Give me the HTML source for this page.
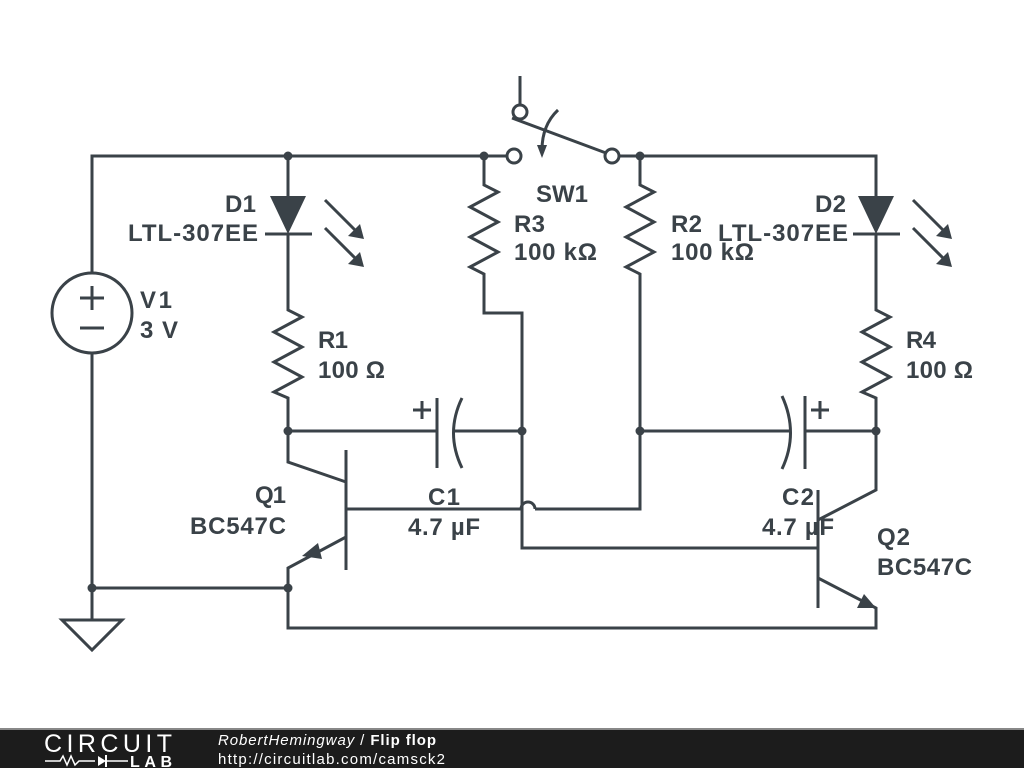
<!DOCTYPE html>
<html><head><style>
body{margin:0;width:1024px;height:768px;background:#fff;overflow:hidden;font-family:"Liberation Sans","DejaVu Sans",sans-serif}
svg text{font-family:"Liberation Sans","DejaVu Sans",sans-serif;font-weight:bold;font-size:24px;fill:#3a4248}
</style></head><body>
<svg width="1024" height="768" viewBox="0 0 1024 768" xmlns="http://www.w3.org/2000/svg">
<g stroke="#3a4248" stroke-width="3" fill="none" stroke-linejoin="miter">
<polyline points="92,273 92,156 507,156"/>
<polyline points="619,156 876,156 876,196"/>
<circle cx="514" cy="156" r="7" fill="#fff"/>
<circle cx="612" cy="156" r="7" fill="#fff"/>
<line x1="520" y1="76" x2="520" y2="104"/>
<circle cx="520" cy="112" r="7" fill="#fff"/>
<line x1="512" y1="118" x2="606" y2="153"/>
<path d="M558,110 Q542,125 542,150"/>
<circle cx="92" cy="313" r="40"/>
<line x1="80" y1="298" x2="104" y2="298"/><line x1="92" y1="286" x2="92" y2="310"/>
<line x1="80" y1="328" x2="104" y2="328"/>
<polyline points="92,353 92,620"/>
<polygon points="62,620 122,620 92,650"/>
<line x1="92" y1="588" x2="288" y2="588"/>
<line x1="288" y1="156" x2="288" y2="196"/>
<line x1="265" y1="234" x2="312" y2="234"/>
<polyline points="288,234 288,305 "/>
<polyline points="288,305 288,310 302,317 274,332 302,347 274,362 302,377 274,392 288,398 288,452"/>
<polyline points="484,156 484,185 498,192 470,207 498,222 470,237 498,252 470,267 484,274 484,313 522,313 522,548 818,548"/>
<polyline points="640,156 640,185 654,192 626,207 654,222 626,237 654,252 626,267 640,274 640,509 535,509"/>
<path d="M535,509 A7,7 0 0 0 521,509"/>
<line x1="521" y1="509" x2="346" y2="509"/>
<line x1="853" y1="234" x2="900" y2="234"/>
<polyline points="876,234 876,305 876,310 890,317 862,332 890,347 862,362 890,377 862,392 876,398 876,490 818,520"/>
<line x1="288" y1="431" x2="437" y2="431"/>
<line x1="437" y1="398" x2="437" y2="468"/>
<path d="M462,398 Q445,433 462,468"/>
<line x1="453" y1="431" x2="522" y2="431"/>
<line x1="413" y1="410" x2="431" y2="410"/><line x1="422" y1="401" x2="422" y2="419"/>
<line x1="640" y1="431" x2="790" y2="431"/>
<path d="M782,396 Q799,433 782,469"/>
<line x1="805" y1="396" x2="805" y2="469"/>
<line x1="805" y1="431" x2="876" y2="431"/>
<line x1="811" y1="410" x2="829" y2="410"/><line x1="820" y1="401" x2="820" y2="419"/>
<line x1="346" y1="450" x2="346" y2="570"/>
<polyline points="288,452 288,462 346,482"/>
<polyline points="346,537 288,568 288,628 876,628 876,608 818,578"/>
<line x1="818" y1="490" x2="818" y2="608"/>
</g>
<g fill="#3a4248" stroke="none">
<polygon points="270,196 306,196 288,234"/>
<polygon points="858,196 894,196 876,234"/>
<polygon points="302,556 318,543 322,559"/>
<polygon points="876,608 857,608 864,594"/>
<polygon points="542,158 537,145 547,145"/>
<circle cx="288" cy="156" r="4.5"/><circle cx="484" cy="156" r="4.5"/><circle cx="640" cy="156" r="4.5"/>
<circle cx="288" cy="431" r="4.5"/><circle cx="522" cy="431" r="4.5"/><circle cx="640" cy="431" r="4.5"/><circle cx="876" cy="431" r="4.5"/>
<circle cx="288" cy="588" r="4.5"/><circle cx="92" cy="588" r="4.5"/>
</g>
<g stroke="#3a4248" stroke-width="3">
<line x1="325" y1="200" x2="360" y2="235"/><line x1="325" y1="228" x2="360" y2="263"/>
<line x1="913" y1="200" x2="948" y2="235"/><line x1="913" y1="228" x2="948" y2="263"/>
</g>
<g fill="#3a4248">
<polygon points="364,239 348,236 360,224"/><polygon points="364,267 348,264 360,252"/>
<polygon points="952,239 936,236 948,224"/><polygon points="952,267 936,264 948,252"/>
</g>
<text x="225" y="212" textLength="31">D1</text><text x="128" y="241" textLength="130">LTL-307EE</text>
<text x="815" y="212" textLength="31">D2</text><text x="718" y="241" textLength="130">LTL-307EE</text>
<text x="140" y="308" textLength="32">V1</text><text x="140" y="338" textLength="38">3 V</text>
<text x="318" y="348" textLength="30">R1</text><text x="318" y="378" textLength="67">100 Ω</text>
<text x="906" y="348" textLength="30">R4</text><text x="906" y="378" textLength="67">100 Ω</text>
<text x="514" y="232" textLength="31">R3</text><text x="514" y="260" textLength="83">100 kΩ</text>
<text x="671" y="232" textLength="31">R2</text><text x="671" y="260" textLength="83">100 kΩ</text>
<text x="536" y="202" textLength="52">SW1</text>
<text x="255" y="503" textLength="31">Q1</text><text x="190" y="534" textLength="96">BC547C</text>
<text x="428" y="505" textLength="32">C1</text><text x="408" y="535" textLength="72">4.7 µF</text>
<text x="782" y="505" textLength="32">C2</text><text x="762" y="535" textLength="72">4.7 µF</text>
<text x="877" y="545" textLength="33">Q2</text><text x="877" y="575" textLength="95">BC547C</text>
<rect x="0" y="728" width="1024" height="2" fill="#888"/>
<rect x="0" y="730" width="1024" height="38" fill="#1c1c1c"/>
<text x="44" y="752" textLength="128" style="font-weight:normal;font-size:25px;fill:#fff">CIRCUIT</text>
<text x="130" y="767" textLength="42" style="font-size:16px;fill:#fff">LAB</text>
<polyline points="45,761 60,761 63,756 67,765 71,756 75,765 79,761 95,761" stroke="#fff" stroke-width="1.5" fill="none"/>
<polygon points="98,756 98,766 106,761" fill="#fff"/><line x1="106" y1="755" x2="106" y2="767" stroke="#fff" stroke-width="2"/><line x1="106" y1="761" x2="128" y2="761" stroke="#fff" stroke-width="1.5"/>
<text x="218" y="745" textLength="218" style="font-weight:normal;font-style:italic;font-size:15px;fill:#fff">RobertHemingway <tspan style="font-style:normal">/</tspan> <tspan style="font-style:normal;font-weight:bold">Flip flop</tspan></text>
<text x="218" y="764" textLength="227" style="font-weight:normal;font-size:15px;fill:#fff">http://circuitlab.com/camsck2</text>
</svg>
</body></html>
